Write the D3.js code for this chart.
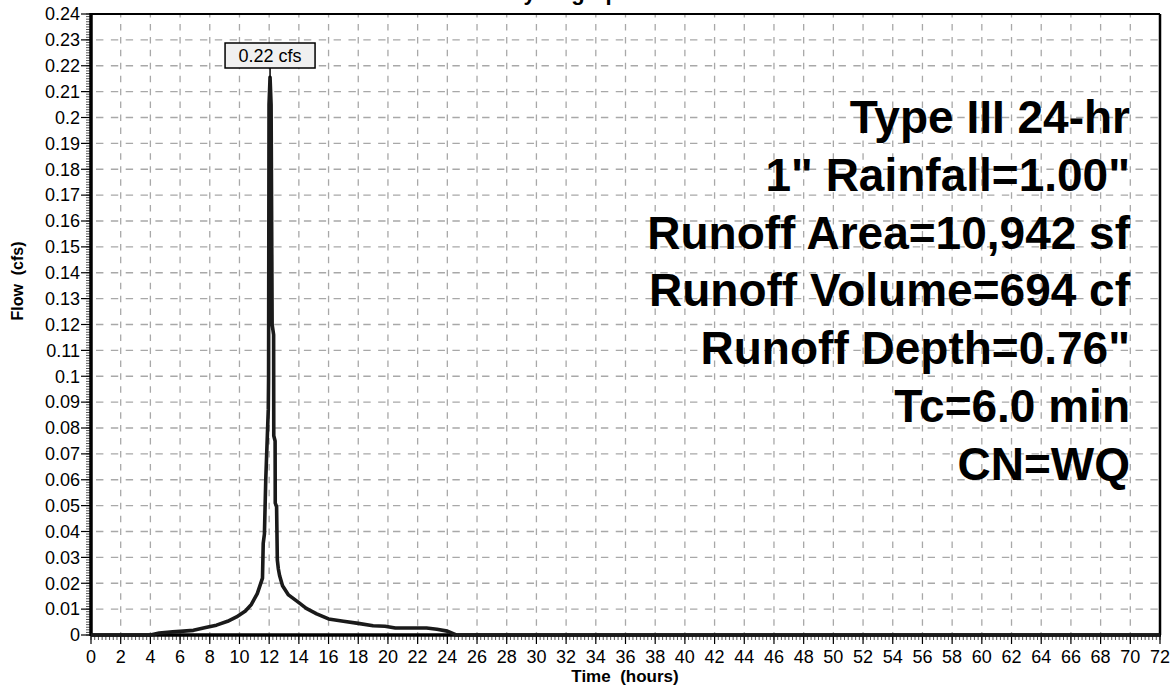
<!DOCTYPE html>
<html>
<head>
<meta charset="utf-8">
<script src="https://cdn.jsdelivr.net/npm/d3@7"></script>
<style>
  html, body { margin: 0; padding: 0; background: #fff; }
  svg { display: block; font-family: "Liberation Sans", Arial, sans-serif; }
  text { white-space: pre; }
</style>
</head>
<body>
<svg id="chart" width="1171" height="689"></svg>
<script>
// ---- data ----
const chartTitle = "Hydrograph";
const xAxisTitle = "Time  (hours)";
const yAxisTitle = "Flow  (cfs)";
const xTickValues = d3.range(0, 73, 2);
const yTickValues = d3.range(0, 25).map(i => i / 100);
const timeHours = [0, 4.0, 4.6, 5.5, 6.0, 6.9, 7.8, 8.45, 9.2, 9.8, 10.4, 10.8, 11.2, 11.55, 11.6, 11.68, 11.77, 11.94, 11.96, 11.99, 12.06,
  12.13, 12.2, 12.3, 12.31, 12.4, 12.41, 12.5, 12.55, 12.62, 12.7, 12.9, 13.3, 14.0, 14.5, 15.2, 16.0, 17.0, 18.0, 19.0, 19.8, 20.5, 22.6, 23.3, 24.0, 24.6, 72];
const flowCfs = [0, 0, 0.0008, 0.0012, 0.0014, 0.0018, 0.003, 0.0038, 0.0053, 0.007, 0.0093, 0.0118, 0.016, 0.022, 0.0355, 0.039, 0.06, 0.087, 0.099, 0.205, 0.2155,
  0.205, 0.12, 0.116, 0.077, 0.075, 0.051, 0.0496, 0.029, 0.0255, 0.023, 0.019, 0.0155, 0.0125, 0.0103, 0.0082, 0.0062, 0.0053, 0.0045, 0.0036, 0.0034, 0.0027, 0.0027, 0.0022, 0.0015, 0, 0];
const peakLabel = "0.22 cfs";
const infoLines = ["Type III 24-hr", "1\" Rainfall=1.00\"", "Runoff Area=10,942 sf", "Runoff Volume=694 cf", "Runoff Depth=0.76\"", "Tc=6.0 min", "CN=WQ"];

// ---- chart ----
const svg = d3.select("#chart");
const x = d3.scaleLinear().domain([0, 72]).range([91, 1160]);
const y = d3.scaleLinear().domain([0, 0.24]).range([635, 14]);
const fmtY = v => String(+v.toFixed(2));

// grid
const grid = svg.append("g");
grid.selectAll("line.v").data(xTickValues.slice(1)).join("line")
  .attr("x1", d => x(d)).attr("x2", d => x(d))
  .attr("y1", y(0.24)).attr("y2", y(0))
  .attr("stroke", "#a8a8a8").attr("stroke-width", 1.3)
  .attr("stroke-dasharray", "6.5,6.44").attr("stroke-dashoffset", 3);
grid.selectAll("line.h").data(yTickValues.slice(0, -1)).join("line")
  .attr("x1", x(0)).attr("x2", x(72))
  .attr("y1", d => y(d)).attr("y2", d => y(d))
  .attr("stroke", "#a8a8a8").attr("stroke-width", 1.3)
  .attr("stroke-dasharray", "7.4,7.45").attr("stroke-dashoffset", -5);

// minor ticks
const axes = svg.append("g");
axes.selectAll("line.ym").data(d3.range(0, 241).map(i => i / 1000)).join("line")
  .attr("x1", x(0) - 5).attr("x2", x(0))
  .attr("y1", d => y(d)).attr("y2", d => y(d))
  .attr("stroke", "#555").attr("stroke-width", 1);
axes.selectAll("line.yM").data(yTickValues).join("line")
  .attr("x1", x(0) - 10).attr("x2", x(0))
  .attr("y1", d => y(d)).attr("y2", d => y(d))
  .attr("stroke", "#000").attr("stroke-width", 1.2);
axes.selectAll("line.xm").data(d3.range(0, 289).map(i => i / 4)).join("line")
  .attr("x1", d => x(d)).attr("x2", d => x(d))
  .attr("y1", y(0)).attr("y2", y(0) + 5)
  .attr("stroke", "#555").attr("stroke-width", 1);
axes.selectAll("line.xM").data(xTickValues).join("line")
  .attr("x1", d => x(d)).attr("x2", d => x(d))
  .attr("y1", y(0)).attr("y2", y(0) + 9)
  .attr("stroke", "#000").attr("stroke-width", 1.2);

// frame
svg.append("line").attr("x1", x(0)).attr("x2", x(72)).attr("y1", y(0.24)).attr("y2", y(0.24))
  .attr("stroke", "#000").attr("stroke-width", 2);
svg.append("line").attr("x1", x(72)).attr("x2", x(72)).attr("y1", y(0.24)).attr("y2", y(0))
  .attr("stroke", "#000").attr("stroke-width", 2.5);
svg.append("line").attr("x1", x(0)).attr("x2", x(72) + 1).attr("y1", y(0)).attr("y2", y(0))
  .attr("stroke", "#000").attr("stroke-width", 3.5);
svg.append("line").attr("x1", x(0)).attr("x2", x(0)).attr("y1", y(0.24) - 1).attr("y2", y(0) + 1)
  .attr("stroke", "#000").attr("stroke-width", 3.5);

// tick labels
svg.append("g").selectAll("text").data(yTickValues).join("text")
  .attr("x", x(0) - 11).attr("y", d => y(d)).attr("dy", "0.35em")
  .attr("text-anchor", "end").attr("font-size", 18).attr("fill", "#000")
  .text(fmtY);
svg.append("g").selectAll("text").data(xTickValues).join("text")
  .attr("x", d => x(d)).attr("y", 663)
  .attr("text-anchor", "middle").attr("font-size", 18).attr("fill", "#000")
  .text(d => d);

// axis titles
svg.append("text").attr("x", 625).attr("y", 682).attr("text-anchor", "middle")
  .attr("font-size", 17).attr("font-weight", "bold").text(xAxisTitle);
svg.append("text").attr("transform", "translate(23,281) rotate(-90)").attr("text-anchor", "middle")
  .attr("font-size", 16).attr("font-weight", "bold").text(yAxisTitle);
svg.append("text").attr("x", 570).attr("y", -0.5).attr("text-anchor", "middle")
  .attr("font-size", 22).attr("font-weight", "bold").text(chartTitle);

// hydrograph line
const line = d3.line().x((d, i) => x(timeHours[i])).y((d, i) => y(flowCfs[i]));
svg.append("path").datum(flowCfs).attr("d", line)
  .attr("fill", "none").attr("stroke", "#1a1a1a").attr("stroke-width", 3.6)
  .attr("stroke-linejoin", "round");

// peak label
const pi = flowCfs.indexOf(d3.max(flowCfs));
const px = x(timeHours[pi]), py = y(flowCfs[pi]);
svg.append("line").attr("x1", px).attr("x2", px).attr("y1", 68).attr("y2", py)
  .attr("stroke", "#000").attr("stroke-width", 1.5);
svg.append("rect").attr("x", px - 45).attr("y", 43).attr("width", 90).attr("height", 25)
  .attr("fill", "#f0f0f0").attr("stroke", "#000").attr("stroke-width", 1.5);
svg.append("text").attr("x", px).attr("y", 62).attr("text-anchor", "middle")
  .attr("font-size", 18).text(peakLabel);

// info text
svg.append("g").selectAll("text").data(infoLines).join("text")
  .attr("x", 1130).attr("y", (d, i) => 133 + i * 57.8)
  .attr("text-anchor", "end").attr("font-size", 46).attr("font-weight", "bold")
  .attr("fill", "#000").text(d => d);
</script>
</body>
</html>
